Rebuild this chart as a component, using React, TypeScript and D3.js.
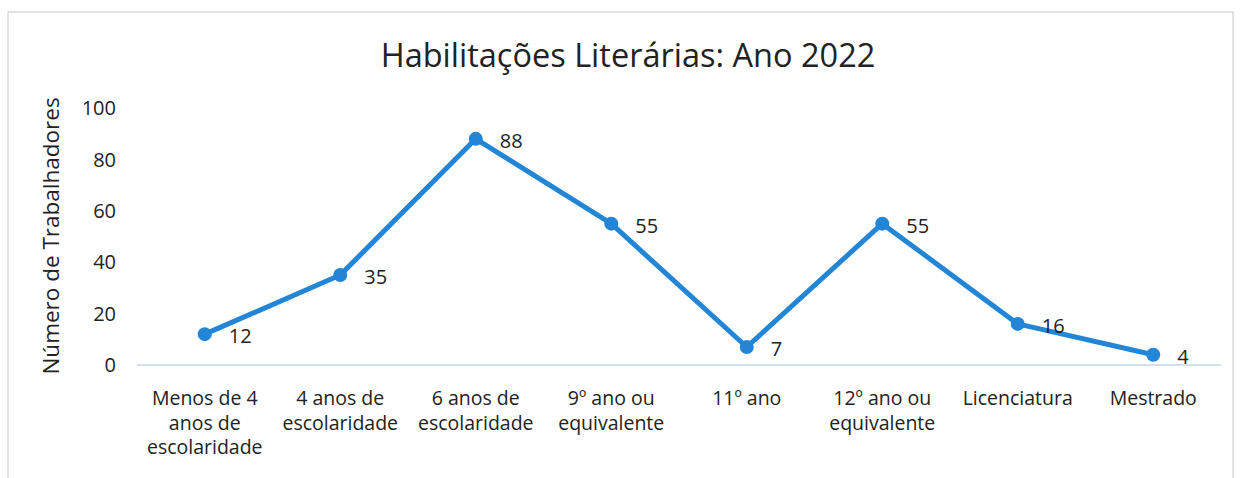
import React from "react";
import * as d3 from "d3";

const categories: string[][] = [
  ["Menos de 4", "anos de", "escolaridade"],
  ["4 anos de", "escolaridade"],
  ["6 anos de", "escolaridade"],
  ["9º ano ou", "equivalente"],
  ["11º ano"],
  ["12º ano ou", "equivalente"],
  ["Licenciatura"],
  ["Mestrado"],
];
const values: number[] = [12, 35, 88, 55, 7, 55, 16, 4];
const yTicks: number[] = [0, 20, 40, 60, 80, 100];
const title = "Habilitações Literárias: Ano 2022";
const yTitle = "Número de Trabalhadores";

const W = 1241;
const H = 478;
const FONT = "'Open Sans', 'Noto Sans', sans-serif";
const BLUE = "#2385d5";

export default function App() {
  const x = d3
    .scaleBand<number>()
    .domain(d3.range(categories.length))
    .range([137, 1221]);
  const y = d3.scaleLinear().domain([0, 100]).range([365, 108]);
  const cx = (i: number) => (x(i) as number) + x.bandwidth() / 2;
  const line = d3
    .line<number>()
    .x((_, i) => cx(i))
    .y((d) => y(d));

  return (
    <svg
      width={W}
      height={H}
      style={{ position: "absolute", left: 0, top: 0, background: "#fff" }}
      fontFamily={FONT}
    >
      <rect x={8} y={12} width={1225} height={470} fill="none" stroke="#c8c8c8" strokeWidth={1} />
      <text x={628} y={67} textAnchor="middle" fontSize={32.5} fill="#222">
        {title}
      </text>
      <text
        transform={`translate(59,236) rotate(-90)`}
        textAnchor="middle"
        fontSize={22.5}
        fill="#222"
      >
        {yTitle}
      </text>
      {yTicks.map((t) => (
        <text key={t} x={116} y={y(t)} dy="0.36em" textAnchor="end" fontSize={20} fill="#222">
          {t}
        </text>
      ))}
      <line x1={137} x2={1221} y1={y(0)} y2={y(0)} stroke="#c9d6e6" strokeWidth={1.5} />
      {categories.map((lines, i) =>
        lines.map((l, j) => (
          <text
            key={`${i}-${j}`}
            x={cx(i)}
            y={405 + j * 24.5}
            textAnchor="middle"
            fontSize={19.5}
            fill="#222"
          >
            {l}
          </text>
        ))
      )}
      <path d={line(values) || ""} fill="none" stroke={BLUE} strokeWidth={5} strokeLinejoin="round" />
      {values.map((v, i) => (
        <circle key={i} cx={cx(i)} cy={y(v)} r={7} fill={BLUE} />
      ))}
      {values.map((v, i) => (
        <text key={i} x={cx(i) + 24} y={y(v) + 2} dy="0.36em" fontSize={20} fill="#222">
          {v}
        </text>
      ))}
    </svg>
  );
}
